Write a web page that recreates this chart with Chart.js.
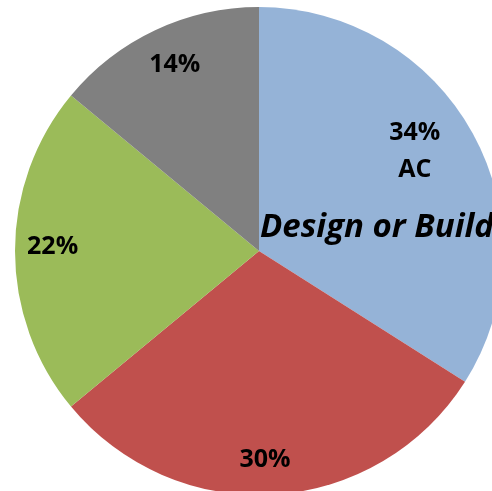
<!DOCTYPE html>
<html>
<head>
<meta charset="utf-8">
<script src="https://cdn.jsdelivr.net/npm/chart.js@4.4.1/dist/chart.umd.min.js"></script>
<style>
  html, body { margin: 0; padding: 0; background: #ffffff; overflow: hidden; width: 492px; height: 491px; }
  #wrap { position: absolute; left: 15px; top: 7px; width: 488px; height: 488px; }
</style>
</head>
<body>
<div id="wrap"><canvas id="pie" width="488" height="488"></canvas></div>
<script>
// Share of work by type
const categories = ['AC', 'Type B', 'Type C', 'Type D'];
const shares = [34, 30, 22, 14];
const sliceColors = ['#95B3D7', '#C0504D', '#9BBB59', '#808080'];
const categoryCaption = 'Design or Build';

// label placement: fraction of the radius along each slice's mid angle, plus a small nudge
const labelRadius = 0.85;
const labelNudge = [[-26, 0], [-7, 2], [1, -4], [4, 2]];

const labelFont = 'bold 25px "Open Sans"';
const captionFont = 'italic bold 33px "Open Sans"';

const sliceLabels = {
  id: 'sliceLabels',
  afterDatasetsDraw(chart) {
    const ctx = chart.ctx;
    const meta = chart.getDatasetMeta(0);
    ctx.save();
    ctx.fillStyle = '#000000';
    ctx.textAlign = 'center';
    ctx.textBaseline = 'middle';
    ctx.font = labelFont;
    meta.data.forEach((arc, i) => {
      const p = arc.getProps(['x', 'y', 'startAngle', 'endAngle', 'outerRadius'], true);
      const mid = (p.startAngle + p.endAngle) / 2;
      const r = p.outerRadius * labelRadius;
      const x = p.x + Math.cos(mid) * r + labelNudge[i][0];
      const y = p.y + Math.sin(mid) * r + labelNudge[i][1];
      const text = shares[i] + '%';
      if (i === 0) {
        ctx.fillText(text, x, y - 18);
        ctx.fillText(categories[0], x, y + 19);
      } else {
        ctx.fillText(text, x, y);
      }
    });
    // caption for the first slice, starting at the pie centre
    const a = meta.data[0];
    ctx.textAlign = 'left';
    ctx.font = captionFont;
    ctx.fillText(categoryCaption, a.x + 1, a.y - 23);
    ctx.restore();
  }
};

new Chart(document.getElementById('pie'), {
  type: 'pie',
  data: {
    labels: categories,
    datasets: [{
      data: shares,
      backgroundColor: sliceColors,
      borderWidth: 0
    }]
  },
  options: {
    responsive: false,
    animation: false,
    layout: { padding: 0 },
    plugins: {
      legend: { display: false },
      tooltip: { enabled: false }
    }
  },
  plugins: [sliceLabels]
});
</script>
</body>
</html>
